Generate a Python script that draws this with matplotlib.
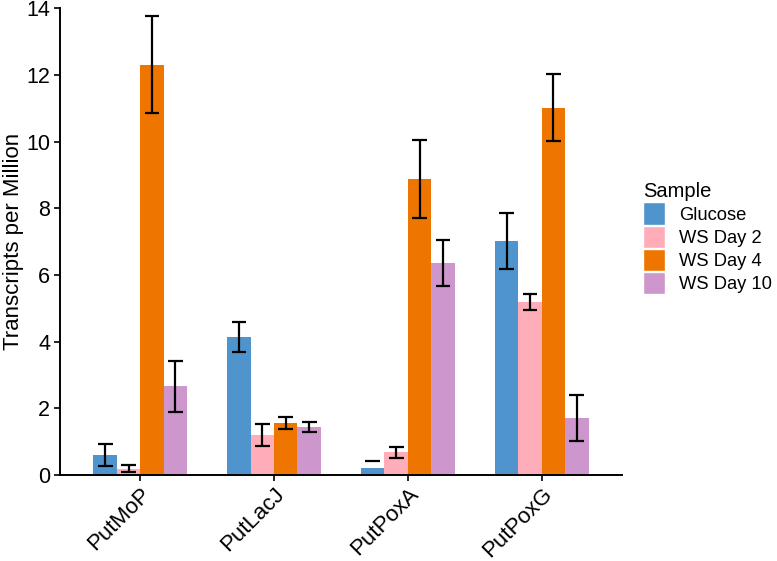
import matplotlib
matplotlib.use("Agg")
import matplotlib.pyplot as plt
from matplotlib.patches import Patch
import numpy as np

plt.rcParams['font.family'] = ['Liberation Sans', 'DejaVu Sans']

genes = ["PutMoP", "PutLacJ", "PutPoxA", "PutPoxG"]
samples = ["Glucose", "WS Day 2", "WS Day 4", "WS Day 10"]
colors = ["#4F94CD", "#FFAEB9", "#EE7600", "#CD96CD"]

glucose = [0.60, 4.13, 0.20, 7.02]
ws_day2 = [0.19, 1.20, 0.68, 5.19]
ws_day4 = [12.31, 1.57, 8.88, 11.02]
ws_day10 = [2.66, 1.43, 6.36, 1.70]

glucose_err = [0.34, 0.45, 0.21, 0.84]
ws_day2_err = [0.10, 0.33, 0.16, 0.25]
ws_day4_err = [1.45, 0.18, 1.16, 1.00]
ws_day10_err = [0.76, 0.15, 0.69, 0.69]

values = [glucose, ws_day2, ws_day4, ws_day10]
errors = [glucose_err, ws_day2_err, ws_day4_err, ws_day10_err]

fig = plt.figure(figsize=(7.77, 5.61), dpi=100)
ax = fig.add_axes([0.0772, 0.1533, 0.7233, 0.8317])

x = np.arange(len(genes))
w = 0.7 / 4
for i, (vals, errs, col) in enumerate(zip(values, errors, colors)):
    pos = x - 0.35 + w * (i + 0.5)
    ax.bar(pos, vals, width=w, color=col, edgecolor='none', zorder=2)
    lo = np.array(vals) - np.array(errs)
    hi = np.array(vals) + np.array(errs)
    for p, l, h in zip(pos, lo, hi):
        if l < 0:
            # lower end falls below the axis: only the upper cap is visible
            ax.hlines(h, p - 0.055, p + 0.055, color='black', lw=1.6, zorder=3)
        else:
            ax.vlines(p, l, h, color='black', lw=1.6, zorder=3)
            ax.hlines([l, h], p - 0.055, p + 0.055, color='black', lw=1.6, zorder=3)

ax.set_xlim(-0.6, 3.6)
ax.set_ylim(0, 14)
ax.set_yticks(np.arange(0, 15, 2))
ax.set_xticks(x)
ax.set_xticklabels(genes, rotation=45, ha='right', va='top', rotation_mode='anchor', fontsize=16)
ax.tick_params(axis='y', labelsize=15.5, length=4, width=1.2, color='black', pad=3)
ax.tick_params(axis='x', length=4, width=1.2, color='black', pad=2)
for s in ['top', 'right']:
    ax.spines[s].set_visible(False)
for s in ['left', 'bottom']:
    ax.spines[s].set_linewidth(1.4)
ax.set_ylabel("Transcripts per Million", fontsize=16)
ax.yaxis.set_label_coords(-0.064, 0.5)

handles = [Patch(facecolor=c, edgecolor='white', label=s) for c, s in zip(colors, samples)]
fig.legend(handles=handles, title="Sample", loc='upper left', bbox_to_anchor=(0.818, 0.688),
           frameon=False, fontsize=13.2, title_fontsize=14.5, handlelength=1.2, handleheight=1.5,
           handletextpad=0.75, labelspacing=0.05, borderaxespad=0, alignment='left')

fig.savefig("out.png", dpi=100)
